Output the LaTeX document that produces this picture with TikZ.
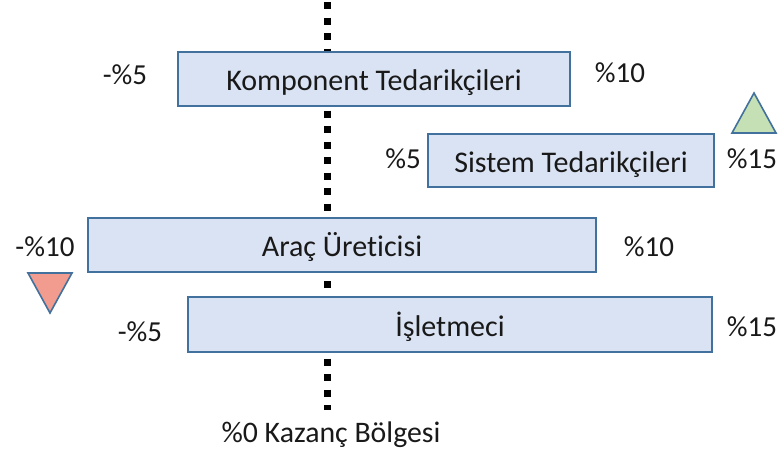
\documentclass[tikz,border=0pt]{standalone}
\usepackage{fontspec}
\setmainfont[Ligatures={NoCommon}]{Carlito}
\begin{document}
\begin{tikzpicture}[x=1pt,y=-1pt,
  bar/.style={draw=barline,fill=barfill,line width=1.6pt},
  pct/.style={font=\fontsize{29}{33}\selectfont,text=black!90},
  btxt/.style={font=\fontsize{30}{34}\selectfont,text=black!90,anchor=base}]
\definecolor{barline}{HTML}{41719C}
\definecolor{barfill}{HTML}{DAE3F3}
\definecolor{upfill}{HTML}{C5E0B4}
\definecolor{downfill}{HTML}{F19C8F}
\useasboundingbox (0,0) rectangle (784,450);
\coordinate (ltop) at (327,2);
\coordinate (lbot) at (327,410);
\draw[line width=7pt,dash pattern=on 7pt off 8.5pt] (ltop) -- (lbot);
% boxes
\draw[bar] (178,52) rectangle (570,106);
\node[btxt] (komp) at (374,90.5) {Komponent Tedarikçileri};
\draw[bar] (428,134) rectangle (714,187);
\node[btxt] (sist) at (571,172) {Sistem Tedarikçileri};
\draw[bar] (88,218) rectangle (596,272);
\node[btxt] (arac) at (342,256.5) {Araç Üreticisi};
\draw[bar] (188,297) rectangle (712,352);
\node[btxt] (islet) at (450,336) {İşletmeci};
% percentages
\node[pct] (p1) at (125,75) {-\%5};
\node[pct] (p2) at (620,73) {\%10};
\node[pct] (p3) at (403,159) {\%5};
\node[pct] (p4) at (752,159) {\%15};
\node[pct] (p5) at (45,247) {-\%10};
\node[pct] (p6) at (649,247) {\%10};
\node[pct] (p7) at (140,332) {-\%5};
\node[pct] (p8) at (752,327) {\%15};
\node[pct,font=\fontsize{29.8}{34}\selectfont] (zero) at (331,435) {\%0 Kazanç Bölgesi};
% triangles
\draw[draw=barline,fill=upfill,line width=1.6pt,line join=miter] (732,133) -- (754,93) -- (776,133) -- cycle;
\draw[draw=barline,fill=downfill,line width=1.6pt,line join=miter] (28,273) -- (72,273) -- (50,313) -- cycle;
\end{tikzpicture}
\end{document}
